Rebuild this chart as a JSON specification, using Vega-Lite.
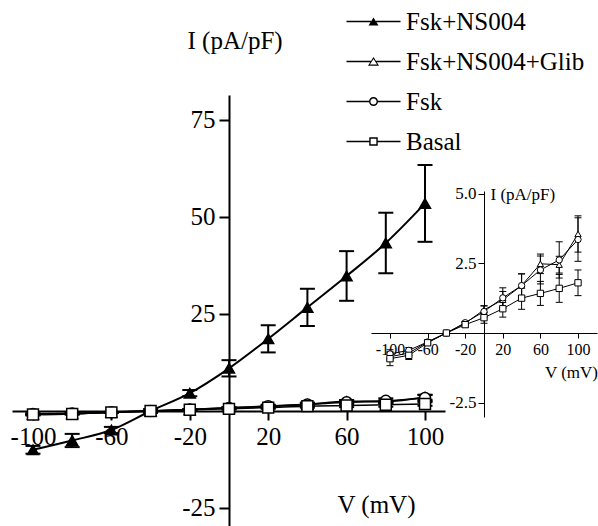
{
  "$schema": "https://vega.github.io/schema/vega-lite/v6.json",
  "width": 598,
  "height": 526,
  "autosize": "none",
  "padding": 0,
  "background": "white",
  "config": {
    "view": {"stroke": null},
    "font": "Liberation Serif",
    "legend": {"labelFont": "Liberation Serif", "labelColor": "black"},
    "axis": {
      "grid": false,
      "domainColor": "black",
      "tickColor": "black",
      "labelColor": "black",
      "titleColor": "black",
      "labelFont": "Liberation Serif",
      "titleFont": "Liberation Serif",
      "titleFontWeight": "normal",
      "labelOverlap": false,
      "labelFlush": false,
      "labelBound": false
    }
  },
  "datasets": {
    "iv": [
      {"series": "Fsk+NS004", "V": -100, "I": -10.0, "lo": -11.0, "hi": -9.0},
      {"series": "Fsk+NS004", "V": -80, "I": -7.6, "lo": -9.3, "hi": -5.9},
      {"series": "Fsk+NS004", "V": -60, "I": -4.9, "lo": -5.7, "hi": -4.1},
      {"series": "Fsk+NS004", "V": -40, "I": 0.0, "lo": -0.5, "hi": 0.5},
      {"series": "Fsk+NS004", "V": -20, "I": 4.6, "lo": 3.8, "hi": 5.4},
      {"series": "Fsk+NS004", "V": 0, "I": 11.0, "lo": 8.9, "hi": 13.1},
      {"series": "Fsk+NS004", "V": 20, "I": 18.6, "lo": 15.1, "hi": 22.1},
      {"series": "Fsk+NS004", "V": 40, "I": 26.7, "lo": 21.9, "hi": 31.5},
      {"series": "Fsk+NS004", "V": 60, "I": 34.8, "lo": 28.4, "hi": 41.2},
      {"series": "Fsk+NS004", "V": 80, "I": 43.3, "lo": 35.5, "hi": 51.1},
      {"series": "Fsk+NS004", "V": 100, "I": 53.5, "lo": 43.6, "hi": 63.4},
      {"series": "Fsk+NS004+Glib", "V": -100, "I": -0.85, "lo": -1.0, "hi": -0.7},
      {"series": "Fsk+NS004+Glib", "V": -80, "I": -0.72, "lo": -0.82, "hi": -0.62},
      {"series": "Fsk+NS004+Glib", "V": -60, "I": -0.32, "lo": -0.37, "hi": -0.27},
      {"series": "Fsk+NS004+Glib", "V": -40, "I": 0.0, "lo": -0.03, "hi": 0.03},
      {"series": "Fsk+NS004+Glib", "V": -20, "I": 0.35, "lo": 0.3, "hi": 0.4},
      {"series": "Fsk+NS004+Glib", "V": 0, "I": 0.83, "lo": 0.68, "hi": 0.98},
      {"series": "Fsk+NS004+Glib", "V": 20, "I": 1.19, "lo": 0.89, "hi": 1.49},
      {"series": "Fsk+NS004+Glib", "V": 40, "I": 1.7, "lo": 1.28, "hi": 2.12},
      {"series": "Fsk+NS004+Glib", "V": 60, "I": 2.48, "lo": 2.13, "hi": 2.83},
      {"series": "Fsk+NS004+Glib", "V": 80, "I": 2.45, "lo": 2.15, "hi": 2.75},
      {"series": "Fsk+NS004+Glib", "V": 100, "I": 3.55, "lo": 2.9, "hi": 4.2},
      {"series": "Fsk", "V": -100, "I": -0.75, "lo": -0.9, "hi": -0.6},
      {"series": "Fsk", "V": -80, "I": -0.62, "lo": -0.72, "hi": -0.52},
      {"series": "Fsk", "V": -60, "I": -0.32, "lo": -0.37, "hi": -0.27},
      {"series": "Fsk", "V": -40, "I": 0.0, "lo": -0.03, "hi": 0.03},
      {"series": "Fsk", "V": -20, "I": 0.37, "lo": 0.32, "hi": 0.42},
      {"series": "Fsk", "V": 0, "I": 0.77, "lo": 0.57, "hi": 0.97},
      {"series": "Fsk", "V": 20, "I": 1.26, "lo": 0.9, "hi": 1.62},
      {"series": "Fsk", "V": 40, "I": 1.7, "lo": 1.28, "hi": 2.12},
      {"series": "Fsk", "V": 60, "I": 2.26, "lo": 1.76, "hi": 2.76},
      {"series": "Fsk", "V": 80, "I": 2.62, "lo": 1.97, "hi": 3.27},
      {"series": "Fsk", "V": 100, "I": 3.35, "lo": 2.57, "hi": 4.13},
      {"series": "Basal", "V": -100, "I": -0.92, "lo": -1.17, "hi": -0.67},
      {"series": "Basal", "V": -80, "I": -0.8, "lo": -0.95, "hi": -0.65},
      {"series": "Basal", "V": -60, "I": -0.35, "lo": -0.45, "hi": -0.25},
      {"series": "Basal", "V": -40, "I": 0.0, "lo": -0.05, "hi": 0.05},
      {"series": "Basal", "V": -20, "I": 0.3, "lo": 0.2, "hi": 0.4},
      {"series": "Basal", "V": 0, "I": 0.55, "lo": 0.35, "hi": 0.75},
      {"series": "Basal", "V": 20, "I": 0.87, "lo": 0.57, "hi": 1.17},
      {"series": "Basal", "V": 40, "I": 1.25, "lo": 0.85, "hi": 1.65},
      {"series": "Basal", "V": 60, "I": 1.42, "lo": 0.99, "hi": 1.85},
      {"series": "Basal", "V": 80, "I": 1.6, "lo": 1.1, "hi": 2.1},
      {"series": "Basal", "V": 100, "I": 1.8, "lo": 1.34, "hi": 2.26}
    ]
  },
  "data": {"name": "iv"},
  "layer": [
    {
      "encoding": {
        "x": {
          "field": "V", "type": "quantitative",
          "scale": {"domain": [-110.7, 110.2], "range": [12, 445], "nice": false, "zero": false},
          "axis": {
            "orient": "bottom", "offset": -115,
            "values": [-100, -60, -20, 20, 60, 100],
            "labelExpr": "replace(datum.label, '\u2212', '-')",
            "tickSize": 9, "tickWidth": 2, "domainWidth": 2,
            "labelFontSize": 25, "labelPadding": 4,
            "title": "V (mV)", "titleFontSize": 25,
            "titleX": 376, "titleY": 101, "titleAlign": "center", "titleBaseline": "alphabetic"
          }
        }
      },
      "layer": [
        {
          "mark": {"type": "rule", "strokeWidth": 2, "color": "black"},
          "encoding": {
            "y": {"field": "lo", "type": "quantitative", "scale": {"domain": [-29.64, 81.44], "range": [526, 95], "nice": false, "zero": false},
              "axis": {"orient": "left", "offset": -229, "values": [75, 50, 25, -25], "labelExpr": "replace(datum.label, '\u2212', '-')", "tickSize": 10, "tickWidth": 2, "domainWidth": 2, "labelFontSize": 25, "labelPadding": 4, "title": "I (pA/pF)", "titleFontSize": 25, "titleAngle": 0, "titleX": -42, "titleY": 48, "titleAlign": "left", "titleBaseline": "alphabetic"}},
            "y2": {"field": "hi"}
          }
        },
        {
          "mark": {"type": "tick", "orient": "horizontal", "size": 15, "thickness": 2, "color": "black", "opacity": 1},
          "encoding": {
            "y": {"field": "lo", "type": "quantitative", "scale": {"domain": [-29.64, 81.44], "range": [526, 95], "nice": false, "zero": false},
              "axis": {"orient": "left", "offset": -229, "values": [75, 50, 25, -25], "labelExpr": "replace(datum.label, '\u2212', '-')", "tickSize": 10, "tickWidth": 2, "domainWidth": 2, "labelFontSize": 25, "labelPadding": 4, "title": "I (pA/pF)", "titleFontSize": 25, "titleAngle": 0, "titleX": -42, "titleY": 48, "titleAlign": "left", "titleBaseline": "alphabetic"}}
          }
        },
        {
          "mark": {"type": "tick", "orient": "horizontal", "size": 15, "thickness": 2, "color": "black", "opacity": 1},
          "encoding": {
            "y": {"field": "hi", "type": "quantitative", "scale": {"domain": [-29.64, 81.44], "range": [526, 95], "nice": false, "zero": false},
              "axis": {"orient": "left", "offset": -229, "values": [75, 50, 25, -25], "labelExpr": "replace(datum.label, '\u2212', '-')", "tickSize": 10, "tickWidth": 2, "domainWidth": 2, "labelFontSize": 25, "labelPadding": 4, "title": "I (pA/pF)", "titleFontSize": 25, "titleAngle": 0, "titleX": -42, "titleY": 48, "titleAlign": "left", "titleBaseline": "alphabetic"}}
          }
        },
        {
          "mark": {"type": "line", "interpolate": "monotone", "color": "black"},
          "encoding": {
            "y": {"field": "I", "type": "quantitative", "scale": {"domain": [-29.64, 81.44], "range": [526, 95], "nice": false, "zero": false},
              "axis": {"orient": "left", "offset": -229, "values": [75, 50, 25, -25], "labelExpr": "replace(datum.label, '\u2212', '-')", "tickSize": 10, "tickWidth": 2, "domainWidth": 2, "labelFontSize": 25, "labelPadding": 4, "title": "I (pA/pF)", "titleFontSize": 25, "titleAngle": 0, "titleX": -42, "titleY": 48, "titleAlign": "left", "titleBaseline": "alphabetic"}},
            "detail": {"field": "series"},
            "strokeWidth": {"field": "series", "type": "nominal", "scale": {"domain": ["Fsk+NS004", "Fsk+NS004+Glib", "Fsk", "Basal"], "range": [2, 1.5, 1.5, 1.5]}, "legend": null}
          }
        },
        {
          "mark": {"type": "point", "filled": true, "stroke": "black", "strokeWidth": 1.5, "size": 120, "opacity": 1},
          "encoding": {
            "y": {"field": "I", "type": "quantitative", "scale": {"domain": [-29.64, 81.44], "range": [526, 95], "nice": false, "zero": false},
              "axis": {"orient": "left", "offset": -229, "values": [75, 50, 25, -25], "labelExpr": "replace(datum.label, '\u2212', '-')", "tickSize": 10, "tickWidth": 2, "domainWidth": 2, "labelFontSize": 25, "labelPadding": 4, "title": "I (pA/pF)", "titleFontSize": 25, "titleAngle": 0, "titleX": -42, "titleY": 48, "titleAlign": "left", "titleBaseline": "alphabetic"}},
            "shape": {"field": "series", "type": "nominal", "scale": {"domain": ["Fsk+NS004", "Fsk+NS004+Glib", "Fsk", "Basal"], "range": ["triangle-up", "triangle-up", "circle", "square"]}, "legend": null},
            "fill": {"field": "series", "type": "nominal", "scale": {"domain": ["Fsk+NS004", "Fsk+NS004+Glib", "Fsk", "Basal"], "range": ["black", "white", "white", "white"]}, "legend": null}
          }
        }
      ]
    },
    {
      "transform": [{"filter": "datum.series !== 'Fsk+NS004'"}],
      "encoding": {
        "x": {
          "field": "V", "type": "quantitative",
          "scale": {"domain": [-120.2, 120.2], "range": [371, 597], "nice": false, "zero": false},
          "axis": {
            "orient": "bottom", "offset": -193,
            "values": [-100, -60, -20, 20, 60, 100],
            "labelExpr": "replace(datum.label, '\u2212', '-')",
            "tickSize": 5, "tickWidth": 1, "domainWidth": 1,
            "labelFontSize": 16, "labelPadding": 3,
            "title": "V (mV)", "titleFontSize": 17,
            "titleX": 571, "titleY": 44, "titleAlign": "center", "titleBaseline": "alphabetic"
          }
        }
      },
      "layer": [
        {
          "mark": {"type": "rule", "strokeWidth": 1, "color": "black"},
          "encoding": {
            "y": {"field": "lo", "type": "quantitative", "scale": {"domain": [-3.01, 5.09], "range": [417, 191], "nice": false, "zero": false},
              "axis": {"orient": "left", "offset": -484, "values": [5, 2.5, -2.5], "format": ".1f", "labelExpr": "replace(datum.label, '\u2212', '-')", "tickSize": 6, "tickWidth": 1, "domainWidth": 1, "labelFontSize": 17, "labelPadding": 2, "title": "I (pA/pF)", "titleFontSize": 17, "titleAngle": 0, "titleX": 6, "titleY": 199, "titleAlign": "left", "titleBaseline": "alphabetic"}},
            "y2": {"field": "hi"}
          }
        },
        {
          "mark": {"type": "tick", "orient": "horizontal", "size": 7, "thickness": 1, "color": "black", "opacity": 1},
          "encoding": {
            "y": {"field": "lo", "type": "quantitative", "scale": {"domain": [-3.01, 5.09], "range": [417, 191], "nice": false, "zero": false},
              "axis": {"orient": "left", "offset": -484, "values": [5, 2.5, -2.5], "format": ".1f", "labelExpr": "replace(datum.label, '\u2212', '-')", "tickSize": 6, "tickWidth": 1, "domainWidth": 1, "labelFontSize": 17, "labelPadding": 2, "title": "I (pA/pF)", "titleFontSize": 17, "titleAngle": 0, "titleX": 6, "titleY": 199, "titleAlign": "left", "titleBaseline": "alphabetic"}}
          }
        },
        {
          "mark": {"type": "tick", "orient": "horizontal", "size": 7, "thickness": 1, "color": "black", "opacity": 1},
          "encoding": {
            "y": {"field": "hi", "type": "quantitative", "scale": {"domain": [-3.01, 5.09], "range": [417, 191], "nice": false, "zero": false},
              "axis": {"orient": "left", "offset": -484, "values": [5, 2.5, -2.5], "format": ".1f", "labelExpr": "replace(datum.label, '\u2212', '-')", "tickSize": 6, "tickWidth": 1, "domainWidth": 1, "labelFontSize": 17, "labelPadding": 2, "title": "I (pA/pF)", "titleFontSize": 17, "titleAngle": 0, "titleX": 6, "titleY": 199, "titleAlign": "left", "titleBaseline": "alphabetic"}}
          }
        },
        {
          "mark": {"type": "line", "color": "black", "strokeWidth": 1},
          "encoding": {
            "y": {"field": "I", "type": "quantitative", "scale": {"domain": [-3.01, 5.09], "range": [417, 191], "nice": false, "zero": false},
              "axis": {"orient": "left", "offset": -484, "values": [5, 2.5, -2.5], "format": ".1f", "labelExpr": "replace(datum.label, '\u2212', '-')", "tickSize": 6, "tickWidth": 1, "domainWidth": 1, "labelFontSize": 17, "labelPadding": 2, "title": "I (pA/pF)", "titleFontSize": 17, "titleAngle": 0, "titleX": 6, "titleY": 199, "titleAlign": "left", "titleBaseline": "alphabetic"}},
            "detail": {"field": "series"}
          }
        },
        {
          "mark": {"type": "point", "filled": true, "stroke": "black", "strokeWidth": 1, "size": 40, "opacity": 1},
          "encoding": {
            "y": {"field": "I", "type": "quantitative", "scale": {"domain": [-3.01, 5.09], "range": [417, 191], "nice": false, "zero": false},
              "axis": {"orient": "left", "offset": -484, "values": [5, 2.5, -2.5], "format": ".1f", "labelExpr": "replace(datum.label, '\u2212', '-')", "tickSize": 6, "tickWidth": 1, "domainWidth": 1, "labelFontSize": 17, "labelPadding": 2, "title": "I (pA/pF)", "titleFontSize": 17, "titleAngle": 0, "titleX": 6, "titleY": 199, "titleAlign": "left", "titleBaseline": "alphabetic"}},
            "shape": {"field": "series", "type": "nominal", "scale": {"domain": ["Fsk+NS004", "Fsk+NS004+Glib", "Fsk", "Basal"], "range": ["triangle-up", "triangle-up", "circle", "square"]}, "legend": null},
            "fill": {"field": "series", "type": "nominal", "scale": {"domain": ["Fsk+NS004", "Fsk+NS004+Glib", "Fsk", "Basal"], "range": ["black", "white", "white", "white"]}, "legend": null}
          }
        }
      ]
    },
    {
      "mark": {"type": "point", "filled": true, "color": "black", "size": 100, "opacity": 1, "clip": true},
      "encoding": {
        "x": {"field": "V", "type": "quantitative", "scale": {"domain": [1000, 2000], "range": [0, 598]}, "axis": null},
        "shape": {
          "field": "series", "type": "nominal",
          "scale": {
            "domain": ["Fsk+NS004", "Fsk+NS004+Glib", "Fsk", "Basal"],
            "range": [
              "M-5.4,-0.15H-0.5V0.15H-5.4Z M0.5,-0.15H5.4V0.15H0.5Z M-1,0.8L0,-0.8L1,0.8Z",
              "M-5.4,-0.15H-0.55V0.15H-5.4Z M0.55,-0.15H5.4V0.15H0.55Z M-1.1,0.85L0,-0.9L1.1,0.85Z M-0.72,0.6L0.72,0.6L0,-0.52Z",
              "M-5.4,-0.15H-0.88V0.15H-5.4Z M0.88,-0.15H5.4V0.15H0.88Z M-0.9,0A0.9,0.9,0,1,1,0.9,0A0.9,0.9,0,1,1,-0.9,0Z M-0.62,0A0.62,0.62,0,1,0,0.62,0A0.62,0.62,0,1,0,-0.62,0Z",
              "M-5.4,-0.15H-0.85V0.15H-5.4Z M0.85,-0.15H5.4V0.15H0.85Z M-0.85,-0.85H0.85V0.85H-0.85Z M-0.57,-0.57V0.57H0.57V-0.57Z"
            ]
          },
          "legend": {
            "orient": "none", "legendX": 361, "legendY": 9, "direction": "vertical",
            "title": null, "labelFontSize": 25, "labelFont": "Liberation Serif", "labelColor": "black",
            "labelOffset": 20, "symbolSize": 100, "symbolFillColor": "black", "symbolStrokeWidth": 0,
            "rowPadding": 14, "padding": 0, "labelLimit": 400
          }
        }
      }
    }
  ],
  "resolve": {
    "scale": {"x": "independent", "y": "independent", "shape": "independent", "fill": "independent", "strokeWidth": "independent"}
  }
}
